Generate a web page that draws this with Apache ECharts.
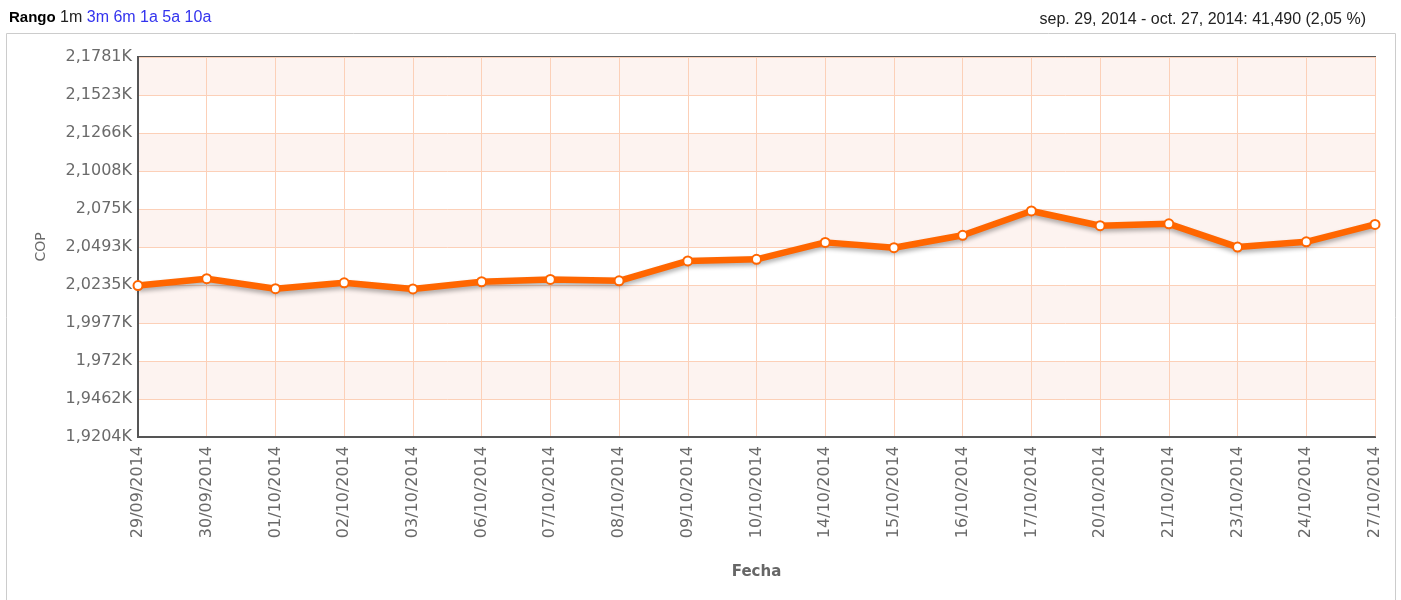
<!DOCTYPE html>
<html>
<head>
<meta charset="utf-8">
<script src="https://cdn.jsdelivr.net/npm/echarts@6/dist/echarts.min.js"></script>
<style>
html,body{margin:0;padding:0;background:#fff;}
#chart{width:1401px;height:600px;}
</style>
</head>
<body>
<div id="chart"></div>
<script>
var categories = ['29/09/2014','30/09/2014','01/10/2014','02/10/2014','03/10/2014','06/10/2014','07/10/2014','08/10/2014','09/10/2014','10/10/2014','14/10/2014','15/10/2014','16/10/2014','17/10/2014','20/10/2014','21/10/2014','23/10/2014','24/10/2014','27/10/2014'];
var copValues = [2023.1, 2027.8, 2021.0, 2025.0, 2020.8, 2025.7, 2027.3, 2026.3, 2039.8, 2040.9, 2052.4, 2048.8, 2057.2, 2073.7, 2063.7, 2065.0, 2049.2, 2052.8, 2064.6];
var yTickLabels = ['1,9204K','1,9462K','1,972K','1,9977K','2,0235K','2,0493K','2,075K','2,1008K','2,1266K','2,1523K','2,1781K'];
var yMin = 1920.42;
var yInterval = 25.77;
var yMax = yMin + yInterval * 10;
var rangeLinks = ['1m','3m','6m','1a','5a','10a'];
var summaryText = 'sep. 29, 2014 - oct. 27, 2014: 41,490 (2,05 %)';

var chart = echarts.init(document.getElementById('chart'));
var sans = 'Liberation Sans, Arial, sans-serif';
var verd = 'DejaVu Sans, Verdana, sans-serif';

var rich = {
  b: {fontFamily: sans, fontSize: 15, fontWeight: 'bold', fill: '#000'},
  k: {fontFamily: sans, fontSize: 16, fill: '#222'},
  l: {fontFamily: sans, fontSize: 16, fill: '#3333ee'}
};
var headerText = '{b|Rango} ' + rangeLinks.map(function (r, i) { return (i === 0 ? '{k|' : '{l|') + r + '}'; }).join(' ');

var option = {
  animation: false,
  backgroundColor: '#fff',
  graphic: [
    {type: 'rect', shape: {x: 6.5, y: 33.5, width: 1389, height: 600}, style: {fill: 'none', stroke: '#cccccc', lineWidth: 1}, z: -10},
    {type: 'text', left: 9, top: 10, style: {text: headerText, rich: rich, fontFamily: sans, fontSize: 16}},
    {type: 'text', right: 35, top: 12, style: {text: summaryText, fontFamily: sans, fontSize: 16, fill: '#222'}}
  ],
  grid: {left: 138, right: 26, top: 57, bottom: 163, show: true, borderColor: '#555', borderWidth: 2, backgroundColor: 'transparent'},
  xAxis: {
    type: 'category',
    data: categories,
    boundaryGap: false,
    name: 'Fecha',
    nameLocation: 'middle',
    nameGap: 128,
    nameTextStyle: {fontFamily: verd, fontSize: 15, fontWeight: 'bold', color: '#666'},
    axisLine: {lineStyle: {color: '#555', width: 2}},
    axisTick: {show: false},
    axisLabel: {rotate: 90, fontFamily: verd, fontSize: 16, color: '#6a6a6a', margin: 9},
    splitLine: {show: true, lineStyle: {color: '#fcd0b8', width: 1}}
  },
  yAxis: {
    type: 'value',
    min: yMin,
    max: yMax,
    interval: yInterval,
    name: 'COP',
    nameLocation: 'middle',
    nameGap: 90,
    nameTextStyle: {fontFamily: verd, fontSize: 14, color: '#6a6a6a'},
    axisLine: {show: true, lineStyle: {color: '#555', width: 2}},
    axisTick: {show: false},
    axisLabel: {
      fontFamily: verd, fontSize: 16, color: '#6a6a6a', margin: 6,
      formatter: function (v) { return yTickLabels[Math.round((v - yMin) / yInterval)]; }
    },
    splitLine: {show: true, lineStyle: {color: '#fcd0b8', width: 1}},
    splitArea: {show: true, areaStyle: {color: ['#ffffff', '#fdf3f0']}}
  },
  series: [{
    type: 'line',
    data: copValues,
    symbol: 'circle',
    symbolSize: 9,
    showAllSymbol: true,
    lineStyle: {color: '#ff6600', width: 6.5, shadowColor: 'rgba(0,0,0,0.3)', shadowBlur: 4, shadowOffsetY: 3},
    itemStyle: {color: '#ffffff', borderColor: '#ff6600', borderWidth: 2}
  }]
};
chart.setOption(option);
</script>
</body>
</html>
